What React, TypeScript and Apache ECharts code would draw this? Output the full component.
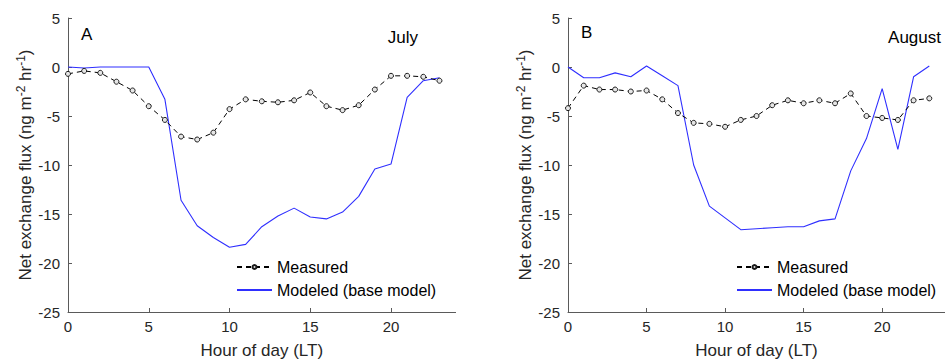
import React, { useEffect, useRef } from "react";
import * as echarts from "echarts";

// Hour of day (local time)
const hours = [0, 1, 2, 3, 4, 5, 6, 7, 8, 9, 10, 11, 12, 13, 14, 15, 16, 17, 18, 19, 20, 21, 22, 23];

// Panel A: July
const measuredJuly = [-0.7, -0.4, -0.6, -1.5, -2.4, -4.0, -5.4, -7.1, -7.4, -6.7, -4.3, -3.3, -3.5, -3.6, -3.4, -2.6, -4.0, -4.4, -3.9, -2.3, -0.9, -0.9, -1.0, -1.4];
const modeledJuly = [0.0, -0.1, 0.0, 0.0, 0.0, 0.0, -3.3, -13.6, -16.2, -17.4, -18.4, -18.1, -16.3, -15.2, -14.4, -15.3, -15.5, -14.8, -13.2, -10.4, -9.9, -3.1, -1.4, -1.1];

// Panel B: August
const measuredAugust = [-4.2, -1.9, -2.3, -2.3, -2.5, -2.4, -3.3, -4.7, -5.7, -5.8, -6.1, -5.4, -5.0, -3.9, -3.4, -3.7, -3.4, -3.7, -2.7, -5.0, -5.2, -5.4, -3.4, -3.2];
const modeledAugust = [0.0, -1.1, -1.1, -0.6, -1.0, 0.1, -0.9, -1.9, -10.0, -14.2, -15.4, -16.6, -16.5, -16.4, -16.3, -16.3, -15.7, -15.5, -10.6, -7.3, -2.2, -8.4, -1.0, 0.1];

const xTicks = [0, 5, 10, 15, 20];
const seriesNames = ["Measured", "Modeled (base model)"];
const panelLetters = ["A", "B"];
const panelMonths = ["July", "August"];

const FONT = "'Liberation Sans', Arial, Helvetica, sans-serif";
const AXIS_COLOR = "#262626";
const LINE_COLOR = "#5a5a5a";
const BLUE = "#2f2fff";

const GRID_LEFTS = [68, 568];
const GRID_TOP = 18;
const GRID_W = 387.6;
const GRID_H = 295;

function pairs(vals: number[]) {
  return hours.map((h, i) => [h, vals[i]]);
}

function xAxis(gridIndex: number) {
  return {
    type: "value",
    gridIndex,
    min: 0,
    max: 24,
    interval: 5,
    name: "Hour of day (LT)",
    nameLocation: "middle",
    nameGap: 30,
    nameTextStyle: { fontSize: 17, color: AXIS_COLOR, fontFamily: FONT },
    axisLine: { show: true, onZero: false, lineStyle: { color: LINE_COLOR, width: 1 } },
    axisTick: { show: true, inside: true, length: 4, customValues: xTicks, lineStyle: { color: LINE_COLOR } },
    axisLabel: { customValues: xTicks, fontSize: 15, color: AXIS_COLOR, fontFamily: FONT, margin: 7 },
    splitLine: { show: false },
  };
}

function yAxis(gridIndex: number) {
  return {
    type: "value",
    gridIndex,
    min: -25,
    max: 5,
    interval: 5,
    name: "Net exchange flux (ng m{sup|-2} hr{sup|-1})",
    nameLocation: "middle",
    nameRotate: 90,
    nameGap: 32,
    nameTextStyle: {
      fontSize: 17,
      color: AXIS_COLOR,
      fontFamily: FONT,
      rich: {
        sup: { fontSize: 12, color: AXIS_COLOR, fontFamily: FONT, padding: [0, 0, 9, 0] },
      },
    },
    axisLine: { show: true, onZero: false, lineStyle: { color: LINE_COLOR, width: 1 } },
    axisTick: { show: true, inside: true, length: 4, lineStyle: { color: LINE_COLOR } },
    axisLabel: { fontSize: 15, color: AXIS_COLOR, fontFamily: FONT, margin: 8 },
    splitLine: { show: false },
  };
}

function measuredSeries(idx: number, vals: number[]) {
  return {
    name: seriesNames[0],
    type: "line",
    xAxisIndex: idx,
    yAxisIndex: idx,
    data: pairs(vals),
    symbol: "circle",
    symbolSize: 5,
    showSymbol: true,
    z: 3,
    lineStyle: { color: "#000", width: 1, type: [5, 4] },
    itemStyle: { color: "#e6e6e6", borderColor: "#1a1a1a", borderWidth: 1 },
  };
}

function modeledSeries(idx: number, vals: number[]) {
  return {
    name: seriesNames[1],
    type: "line",
    xAxisIndex: idx,
    yAxisIndex: idx,
    data: pairs(vals),
    symbol: "none",
    z: 2,
    lineStyle: { color: BLUE, width: 1.1 },
    itemStyle: { color: BLUE },
  };
}

function legend(idx: number) {
  return {
    data: [
      { name: seriesNames[0] },
      { name: seriesNames[1], itemStyle: { opacity: 0 } },
    ],
    orient: "vertical",
    left: GRID_LEFTS[idx] + 163,
    top: 253,
    itemWidth: 35,
    itemHeight: 5,
    itemGap: 5,
    textStyle: { fontSize: 16, color: "#000", fontFamily: FONT, lineHeight: 18 },
    selectedMode: false,
  };
}

function panelTexts(idx: number) {
  const left = GRID_LEFTS[idx];
  return [
    {
      type: "text",
      left: left + 13,
      top: idx === 0 ? 26 : 24,
      style: { text: panelLetters[idx], fontSize: 17, fill: "#000", fontFamily: FONT },
    },
    {
      type: "text",
      x: idx === 0 ? 418 : 941,
      y: 37,
      style: {
        text: panelMonths[idx],
        fontSize: 17,
        fill: "#000",
        fontFamily: FONT,
        textAlign: "right",
        textVerticalAlign: "middle",
      },
    },
  ];
}

export default function App() {
  const ref = useRef<HTMLDivElement>(null);

  useEffect(() => {
    if (!ref.current) return;
    const chart = echarts.init(ref.current, null, { renderer: "svg" });
    chart.setOption({
      animation: false,
      backgroundColor: "#fff",
      grid: GRID_LEFTS.map((left) => ({ left, top: GRID_TOP, width: GRID_W, height: GRID_H, containLabel: false })),
      xAxis: [xAxis(0), xAxis(1)],
      yAxis: [yAxis(0), yAxis(1)],
      legend: [legend(0), legend(1)],
      series: [
        modeledSeries(0, modeledJuly),
        measuredSeries(0, measuredJuly),
        modeledSeries(1, modeledAugust),
        measuredSeries(1, measuredAugust),
      ],
      graphic: [...panelTexts(0), ...panelTexts(1)],
    });
    return () => chart.dispose();
  }, []);

  return (
    <div
      ref={ref}
      style={{ position: "fixed", left: 0, top: 0, width: 945, height: 364, background: "#fff" }}
    />
  );
}
